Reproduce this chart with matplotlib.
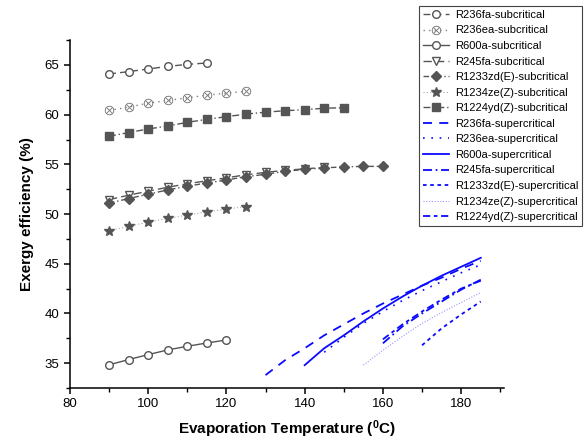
import matplotlib
matplotlib.use('Agg')
import matplotlib.pyplot as plt
from matplotlib.ticker import MultipleLocator

plt.rcParams['font.family'] = ['Liberation Sans', 'DejaVu Sans']
plt.rcParams['mathtext.fontset'] = 'custom'
plt.rcParams['mathtext.rm'] = 'Liberation Sans'
plt.rcParams['mathtext.bf'] = 'Liberation Sans:bold'

# subcritical series (x in degC, y in %)
t_fa_sub = [90, 95, 100, 105, 110, 115]
e_fa_sub = [64.1, 64.33, 64.6, 64.86, 65.06, 65.2]

t_ea_sub = [90, 95, 100, 105, 110, 115, 120, 125]
e_ea_sub = [60.43, 60.76, 61.16, 61.43, 61.7, 61.96, 62.16, 62.36]

t_600_sub = [90, 95, 100, 105, 110, 115, 120]
e_600_sub = [34.83, 35.36, 35.86, 36.33, 36.7, 37.03, 37.33]

t_245_sub = [90, 95, 100, 105, 110, 115, 120, 125, 130, 135, 140, 145]
e_245_sub = [51.45, 51.9, 52.3, 52.7, 53.05, 53.35, 53.65, 53.95, 54.2, 54.4, 54.55, 54.7]

t_1233_sub = [90, 95, 100, 105, 110, 115, 120, 125, 130, 135, 140, 145, 150, 155, 160]
e_1233_sub = [51.1, 51.56, 52.0, 52.43, 52.8, 53.13, 53.43, 53.76, 54.0, 54.3,
              54.5, 54.65, 54.75, 54.8, 54.8]

t_1234_sub = [90, 95, 100, 105, 110, 115, 120, 125]
e_1234_sub = [48.33, 48.76, 49.2, 49.56, 49.9, 50.23, 50.5, 50.76]

t_1224_sub = [90, 95, 100, 105, 110, 115, 120, 125, 130, 135, 140, 145, 150]
e_1224_sub = [57.83, 58.2, 58.56, 58.86, 59.23, 59.53, 59.8, 60.06, 60.25, 60.4,
              60.5, 60.65, 60.7]

# supercritical series
t_fa_sup = [130, 135, 140, 145, 150, 155, 160, 165, 170, 175, 180, 185]
e_fa_sup = [33.8, 35.3, 36.5, 37.8, 38.9, 40.0, 41.0, 41.9, 42.8, 43.6, 44.5, 45.3]

t_ea_sup = [145, 150, 155, 160, 165, 170, 175, 180, 185]
e_ea_sup = [36.1, 37.6, 39.0, 40.2, 41.3, 42.3, 43.2, 44.1, 44.9]

t_600_sup = [140, 145, 150, 155, 160, 165, 170, 175, 180, 185]
e_600_sup = [34.8, 36.5, 37.8, 39.2, 40.5, 41.7, 42.8, 43.8, 44.7, 45.6]

t_245_sup = [160, 165, 170, 175, 180, 185]
e_245_sup = [37.0, 38.7, 40.0, 41.2, 42.4, 43.4]

t_1233_sup = [170, 175, 180, 185]
e_1233_sup = [36.8, 38.5, 39.9, 41.2]

t_1234_sup = [155, 160, 165, 170, 175, 180, 185]
e_1234_sup = [34.8, 36.3, 37.7, 39.0, 40.1, 41.1, 42.1]

t_1224_sup = [160, 165, 170, 175, 180, 185]
e_1224_sup = [37.4, 38.9, 40.2, 41.4, 42.5, 43.3]

gray = '#555555'
blue = '#0a0aff'

fig = plt.figure(figsize=(5.87, 4.46), dpi=100)
ax = fig.add_axes([0.119, 0.130, 0.740, 0.780])

mk = dict(color=gray, markersize=5.5, linewidth=1.0)
ax.plot(t_fa_sub, e_fa_sub, linestyle=(0, (5, 3)), marker='o', mfc='white',
        mec=gray, label='R236fa-subcritical', **mk)
ax.plot(t_ea_sub, e_ea_sub, linestyle=(0, (1, 3)), marker=r'$\otimes$',
        markersize=6.5, color='#808080', linewidth=1.0, markeredgewidth=0.3,
        label='R236ea-subcritical')
ax.plot(t_600_sub, e_600_sub, linestyle='-', marker='o', mfc='white',
        mec=gray, label='R600a-subcritical', **mk)
ax.plot(t_245_sub, e_245_sub, linestyle=(0, (6, 3)), marker='v', mfc='white',
        mec=gray, label='R245fa-subcritical', **mk)
ax.plot(t_1233_sub, e_1233_sub, linestyle=(0, (4, 2, 1, 2)), marker='D',
        mfc=gray, mec=gray, label='R1233zd(E)-subcritical', **mk)
ax.plot(t_1234_sub, e_1234_sub, linestyle=(0, (1, 2)), marker='*',
        mfc=gray, mec=gray, color='#aaaaaa', markersize=7, linewidth=0.8,
        label='R1234ze(Z)-subcritical')
ax.plot(t_1224_sub, e_1224_sub, linestyle=(0, (5, 2, 1, 2)), marker='s',
        mfc=gray, mec=gray, label='R1224yd(Z)-subcritical', **mk)

ax.plot(t_fa_sup, e_fa_sup, color=blue, linewidth=1.3, linestyle=(0, (5, 4)),
        label='R236fa-supercritical')
ax.plot(t_ea_sup, e_ea_sup, color=blue, linewidth=1.2, linestyle=(0, (1, 4)),
        label='R236ea-supercritical')
ax.plot(t_600_sup, e_600_sup, color=blue, linewidth=1.3, linestyle='-',
        label='R600a-supercritical')
ax.plot(t_245_sup, e_245_sup, color=blue, linewidth=1.3,
        linestyle=(0, (5, 2, 1, 2)), label='R245fa-supercritical')
ax.plot(t_1233_sup, e_1233_sup, color=blue, linewidth=1.3,
        linestyle=(0, (2, 2)), label='R1233zd(E)-supercritical')
ax.plot(t_1234_sup, e_1234_sup, color='#9999ff', linewidth=0.8,
        linestyle=(0, (1, 1.5)), label='R1234ze(Z)-supercritical')
ax.plot(t_1224_sup, e_1224_sup, color=blue, linewidth=1.3,
        linestyle=(0, (4, 2, 2, 2)), label='R1224yd(Z)-supercritical')

ax.set_xlim(80, 191)
ax.set_ylim(32.5, 67.5)
ax.xaxis.set_major_locator(MultipleLocator(20))
ax.xaxis.set_minor_locator(MultipleLocator(10))
ax.yaxis.set_major_locator(MultipleLocator(5))
ax.yaxis.set_minor_locator(MultipleLocator(2.5))
for s in ['top', 'right']:
    ax.spines[s].set_visible(False)
for s in ['left', 'bottom']:
    ax.spines[s].set_linewidth(1.1)
ax.tick_params(which='major', direction='out', length=4, width=1.1, labelsize=9.5)
ax.tick_params(which='minor', direction='out', length=3, width=1.0)

ax.set_xlabel(r'Evaporation Temperature ($\mathbf{^0}$C)', fontsize=11,
              fontweight='bold', labelpad=6)
ax.set_ylabel('Exergy efficiency (%)', fontsize=11, fontweight='bold', labelpad=8)

leg = fig.legend(loc='upper right', bbox_to_anchor=(0.9915, 0.9865),
                 fontsize=8, frameon=True, fancybox=False, framealpha=1,
                 edgecolor='#444444', handlelength=2.4, labelspacing=0.5,
                 borderpad=0.35, handletextpad=0.5, borderaxespad=0)
leg.get_frame().set_linewidth(0.8)

fig.savefig('out.png', dpi=100)
